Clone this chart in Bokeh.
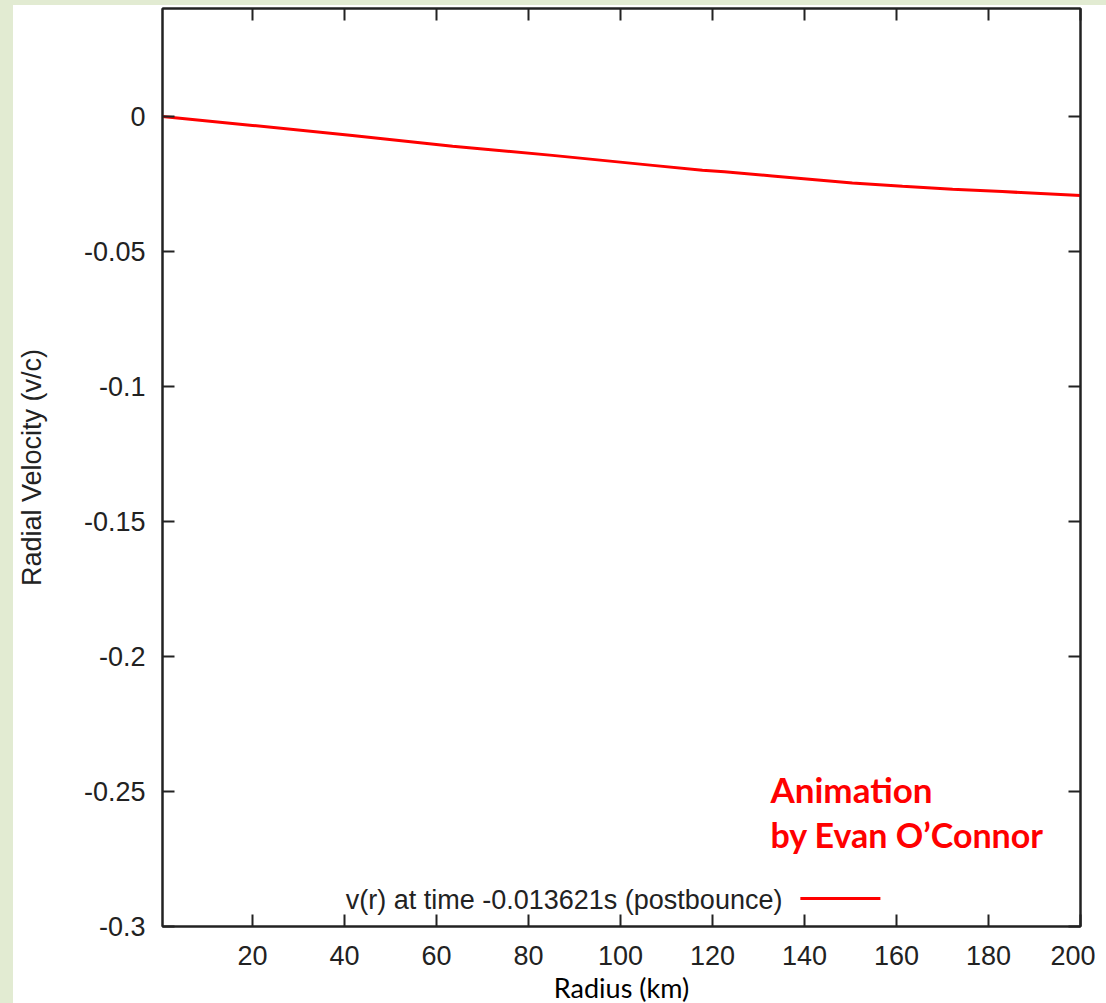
from bokeh.plotting import figure
from bokeh.models import (Range1d, FixedTicker, LinearAxis, Label, Spacer, ColumnDataSource)
from bokeh.layouts import row, column
from bokeh.embed import file_html
from bokeh.resources import INLINE

# ---- data ----
radius_km = [0.4, 20, 41.7, 63.5, 85.2, 107, 117.8, 122.6, 133, 150.4, 161.3, 172.2, 183, 200]
velocity_vc = [0.0, -0.0033, -0.0070, -0.0110, -0.0144, -0.0181, -0.0199, -0.0205,
               -0.0220, -0.0246, -0.0258, -0.0269, -0.0278, -0.0293]

x_ticks = [20, 40, 60, 80, 100, 120, 140, 160, 180, 200]
y_ticks = [-0.3, -0.25, -0.2, -0.15, -0.1, -0.05, 0.0]
y_tick_labels = ["-0.3", "-0.25", "-0.2", "-0.15", "-0.1", "-0.05", "0"]

legend_text = "v(r) at time -0.013621s (postbounce)"
credit_lines = ["Animation", "by Evan O\u2019Connor"]

GREEN = "#e2ebd2"
TICK_FONT = "Liberation Sans"

p = figure(frame_width=918, frame_height=918,
           min_border_left=147, min_border_right=15, min_border_top=3, min_border_bottom=40,
           x_range=Range1d(0.43, 200), y_range=Range1d(-0.3, 0.04),
           output_backend="svg", toolbar_location=None,
           x_axis_label="Radius (km)", y_axis_label="Radial Velocity (v/c)")

p.background_fill_color = "white"
p.border_fill_color = "white"
p.outline_line_color = "#222222"
p.outline_line_width = 2
p.xgrid.visible = False
p.ygrid.visible = False

src = ColumnDataSource(dict(r=radius_km, v=velocity_vc))
p.line("r", "v", source=src, line_color="#ff0000", line_width=3)

def style_axis(ax, show_labels=True):
    ax.axis_line_color = "#222222"
    ax.axis_line_width = 2
    ax.major_tick_in = 12
    ax.major_tick_out = 0
    ax.major_tick_line_color = "#222222"
    ax.major_tick_line_width = 2
    ax.minor_tick_in = 0
    ax.minor_tick_out = 0
    ax.minor_tick_line_color = None
    ax.major_label_text_font = TICK_FONT
    ax.major_label_text_font_size = "27px"
    ax.major_label_text_color = "#222222"
    if not show_labels:
        ax.major_label_text_font_size = "0px"
        ax.major_label_standoff = 0
        ax.major_label_text_color = None

xax = p.xaxis[0]
yax = p.yaxis[0]
xax.ticker = FixedTicker(ticks=x_ticks)
yax.ticker = FixedTicker(ticks=y_ticks)
yax.major_label_overrides = {t: l for t, l in zip(y_ticks, y_tick_labels)}
style_axis(xax)
style_axis(yax)
xax.major_label_standoff = 19
yax.major_label_standoff = 17

yax.axis_label_text_font = TICK_FONT
yax.axis_label_text_font_size = "27px"
yax.axis_label_text_font_style = "normal"
yax.axis_label_text_color = "#222222"
yax.axis_label_standoff = 34

xax.axis_label_text_font = "Lato"
xax.axis_label_text_font_size = "27px"
xax.axis_label_text_font_style = "normal"
xax.axis_label_text_color = "#000000"
xax.axis_label_standoff = 3

top = LinearAxis(ticker=FixedTicker(ticks=x_ticks))
right = LinearAxis(ticker=FixedTicker(ticks=y_ticks))
style_axis(top, show_labels=False)
style_axis(right, show_labels=False)
p.add_layout(top, "above")
p.add_layout(right, "right")

# legend (gnuplot style: text, then line sample)
leg_x_text, leg_y = 135.2, -0.2902
p.add_layout(Label(x=leg_x_text, y=leg_y, text=legend_text, text_align="right",
                   text_baseline="middle", text_font=TICK_FONT, text_font_size="27px",
                   text_color="#222222"))
p.segment(x0=[139.1], y0=[-0.2896], x1=[156.5], y1=[-0.2896], line_color="#ff0000", line_width=3)

# credit
p.add_layout(Label(x=132.6, y=-0.2492, text=credit_lines[0], text_align="left",
                   text_baseline="alphabetic", text_font="Lato", text_font_style="bold",
                   text_font_size="35px", text_color="#ff0000"))
p.add_layout(Label(x=132.6, y=-0.2660, text=credit_lines[1], text_align="left",
                   text_baseline="alphabetic", text_font="Lato", text_font_style="bold",
                   text_font_size="34px", text_color="#ff0000"))

left_strip = Spacer(width=13, height=1003, styles={"background-color": GREEN})
top_strip = Spacer(width=1093, height=5, styles={"background-color": GREEN})
layout = row(left_strip, column(top_strip, p, spacing=0), spacing=0)

open("out.html", "w").write(file_html(layout, INLINE))
